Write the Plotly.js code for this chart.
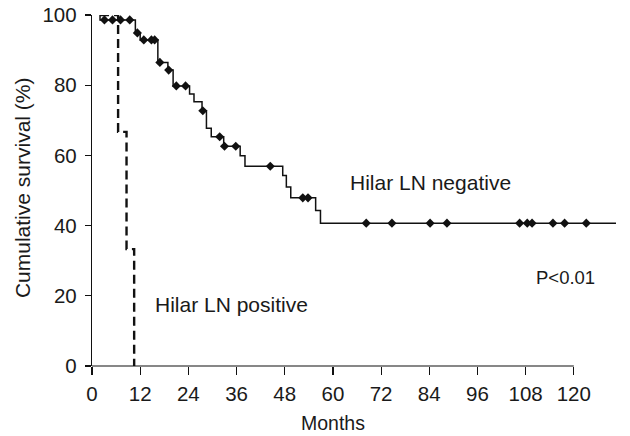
<!DOCTYPE html>
<html>
<head>
<meta charset="utf-8">
<script src="https://cdn.plot.ly/plotly-3.0.1.min.js"></script>
<style>html,body{margin:0;padding:0;background:#fff;}#chart{width:630px;height:436px;}</style>
</head>
<body>
<div id="chart"></div>
<script>
// Hilar LN negative: step curve (event times in months, survival %)
var negTimes = [2.0, 2.0, 10.8, 12.0, 16.4, 18.9, 20.2, 24.3, 25.4, 27.4, 28.5, 29.7, 32.8, 36.9, 38.1, 47.5, 48.4, 49.5, 55.7, 56.9, 130.5];
var negSurv  = [100, 98.6, 94.9, 92.9, 86.5, 84.3, 79.8, 77.5, 75.3, 72.7, 67.7, 65.3, 62.6, 59.9, 56.9, 54.3, 51.0, 47.9, 44.3, 40.7, 40.7];
// Hilar LN negative: censored observations
var negCensTimes = [3.1, 5.1, 7.1, 9.4, 11.3, 12.9, 14.8, 15.6, 16.9, 19.1, 21.0, 23.3, 27.6, 31.8, 33.0, 35.8, 44.4, 52.5, 53.8, 68.3, 74.7, 84.2, 88.4, 106.5, 108.4, 109.6, 114.8, 117.7, 123.1];
var negCensSurv  = [98.6, 98.6, 98.6, 98.6, 94.9, 92.9, 92.9, 92.9, 86.5, 84.3, 79.8, 79.8, 72.7, 65.3, 62.6, 62.6, 56.9, 47.9, 47.9, 40.7, 40.7, 40.7, 40.7, 40.7, 40.7, 40.7, 40.7, 40.7, 40.7];
// Hilar LN positive: step curve
var posTimes = [2.0, 6.5, 8.6, 10.5];
var posSurv  = [100, 66.7, 33.3, 0];
// Axis ticks
var xTicks = [0, 12, 24, 36, 48, 60, 72, 84, 96, 108, 120];
var yTicks = [0, 20, 40, 60, 80, 100];

var fam = 'Liberation Sans, Arial, sans-serif';
var col = '#1a1a1a';
var tickFont = {family: fam, size: 20.5, color: col};
var noteFont = {family: fam, size: 21, color: col};
var xMax = 131;

var traces = [
  {x: negTimes, y: negSurv, mode: 'lines', line: {shape: 'hv', color: '#111', width: 1.5}, hoverinfo: 'skip'},
  {x: negCensTimes, y: negCensSurv, mode: 'markers', marker: {symbol: 'diamond', size: 7, color: '#111'}, hoverinfo: 'skip'},
  {x: posTimes, y: posSurv, mode: 'lines', line: {shape: 'hv', color: '#111', width: 2.4, dash: '9px,5px'}, hoverinfo: 'skip'}
];

var layout = {
  width: 630, height: 436,
  margin: {l: 92, r: 12, t: 15, b: 70},
  paper_bgcolor: '#fff', plot_bgcolor: '#fff',
  showlegend: false,
  font: {family: fam, size: 19, color: col},
  xaxis: {
    range: [0, xMax], showgrid: false, zeroline: false, showline: false,
    tickmode: 'array', tickvals: xTicks, ticktext: xTicks.map(String),
    ticks: 'outside', ticklen: 8, tickwidth: 1.2, tickcolor: '#111',
    tickfont: tickFont, ticklabelstandoff: 1
  },
  yaxis: {
    range: [0, 100], showgrid: false, zeroline: false,
    showline: true, linecolor: '#111', linewidth: 1.2,
    tickmode: 'array', tickvals: yTicks, ticktext: yTicks.map(String),
    ticks: 'outside', ticklen: 6, tickwidth: 1.2, tickcolor: '#111',
    tickfont: tickFont, ticklabelstandoff: 4
  },
  shapes: [
    {type: 'line', xref: 'paper', yref: 'paper', x0: 0, x1: 120 / xMax, y0: 0, y1: 0,
     line: {color: '#111', width: 1.2}}
  ],
  annotations: [
    {text: 'Hilar LN negative', xref: 'x', yref: 'y', x: 63.7, y: 52.4, xanchor: 'left', yanchor: 'middle', showarrow: false, font: noteFont},
    {text: 'Hilar LN positive', xref: 'x', yref: 'y', x: 15.2, y: 17.4, xanchor: 'left', yanchor: 'middle', showarrow: false, font: noteFont},
    {text: 'P<0.01', xref: 'x', yref: 'y', x: 125.7, y: 25.1, xanchor: 'right', yanchor: 'middle', showarrow: false, font: {family: fam, size: 18.5, color: col}},
    {text: 'Months', xref: 'x', yref: 'paper', x: 60, y: 0, yshift: -57, xanchor: 'center', yanchor: 'middle', showarrow: false, font: {family: fam, size: 19.5, color: col}},
    {text: 'Cumulative survival (%)', xref: 'paper', yref: 'paper', x: -0.133, y: 0.507, textangle: -90, xanchor: 'center', yanchor: 'middle', showarrow: false, font: {family: fam, size: 21, color: col}}
  ]
};

Plotly.newPlot('chart', traces, layout, {staticPlot: true, displayModeBar: false});
</script>
</body>
</html>
